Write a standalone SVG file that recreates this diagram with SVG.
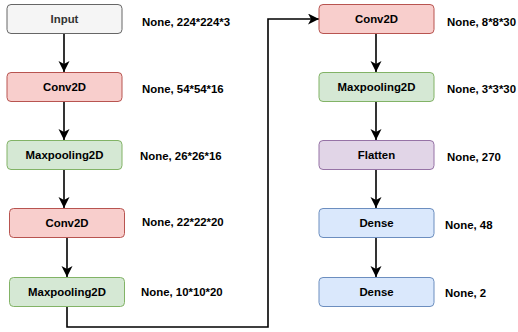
<svg xmlns="http://www.w3.org/2000/svg" width="518" height="332" viewBox="0 0 518 332">
<style>
.box{stroke-width:1}
.lbl{font-family:"Liberation Sans",Arial,sans-serif;font-weight:bold;font-size:11.4px;fill:#000}
.side{font-family:"Liberation Sans",Arial,sans-serif;font-weight:bold;font-size:11.4px;fill:#000}
.gray{fill:#f5f5f5;stroke:#666666}
.red{fill:#f8cecc;stroke:#b85450}
.green{fill:#d5e8d4;stroke:#82b366}
.purple{fill:#e1d5e7;stroke:#9673a6}
.blue{fill:#dae8fc;stroke:#6c8ebf}
.edge{fill:none;stroke:#000;stroke-width:1.6}
</style>
<defs>
<marker id="arr" markerUnits="userSpaceOnUse" markerWidth="12" markerHeight="12" refX="11" refY="5.5" orient="auto">
<path d="M0,0 L11,5.5 L0,11 L3,5.5 Z" fill="#000"/>
</marker>
</defs>
<g id="connectors">
<path class="edge" d="M64,33 V72" marker-end="url(#arr)"/>
<path class="edge" d="M64,101 V140" marker-end="url(#arr)"/>
<path class="edge" d="M64,169 V208" marker-end="url(#arr)"/>
<path class="edge" d="M67,237 V277" marker-end="url(#arr)"/>
<path class="edge" d="M67,306 V327 H268 V19 H319" marker-end="url(#arr)"/>
<path class="edge" d="M376,33 V72" marker-end="url(#arr)"/>
<path class="edge" d="M376,101 V140" marker-end="url(#arr)"/>
<path class="edge" d="M376,169 V208" marker-end="url(#arr)"/>
<path class="edge" d="M376,237 V277" marker-end="url(#arr)"/>
</g>
<g id="input">
<rect class="box gray" x="7" y="4.5" width="115" height="29" rx="4"/>
<text class="lbl" x="64.5" y="23" text-anchor="middle" style="fill:#333333">Input</text>
<text class="side" x="142" y="26">None, 224*224*3</text>
</g>
<g id="conv1">
<rect class="box red" x="7" y="72.5" width="115" height="29" rx="4"/>
<text class="lbl" x="64.5" y="91" text-anchor="middle">Conv2D</text>
<text class="side" x="142" y="93">None, 54*54*16</text>
</g>
<g id="pool1">
<rect class="box green" x="7" y="140.5" width="115" height="29" rx="4"/>
<text class="lbl" x="64.5" y="159" text-anchor="middle">Maxpooling2D</text>
<text class="side" x="140" y="160">None, 26*26*16</text>
</g>
<g id="conv2">
<rect class="box red" x="9.5" y="208.5" width="115" height="29" rx="4"/>
<text class="lbl" x="67" y="227" text-anchor="middle">Conv2D</text>
<text class="side" x="142" y="226">None, 22*22*20</text>
</g>
<g id="pool2">
<rect class="box green" x="9.5" y="277.5" width="115" height="29" rx="4"/>
<text class="lbl" x="67" y="296" text-anchor="middle">Maxpooling2D</text>
<text class="side" x="141" y="296">None, 10*10*20</text>
</g>
<g id="conv3">
<rect class="box red" x="319" y="4.5" width="115" height="29" rx="4"/>
<text class="lbl" x="376.5" y="23" text-anchor="middle">Conv2D</text>
<text class="side" x="447" y="26">None, 8*8*30</text>
</g>
<g id="pool3">
<rect class="box green" x="319" y="72.5" width="115" height="29" rx="4"/>
<text class="lbl" x="376.5" y="91" text-anchor="middle">Maxpooling2D</text>
<text class="side" x="447" y="93">None, 3*3*30</text>
</g>
<g id="flatten">
<rect class="box purple" x="319" y="140.5" width="115" height="29" rx="4"/>
<text class="lbl" x="376.5" y="159" text-anchor="middle">Flatten</text>
<text class="side" x="447" y="161">None, 270</text>
</g>
<g id="dense1">
<rect class="box blue" x="319" y="208.5" width="115" height="29" rx="4"/>
<text class="lbl" x="376.5" y="227" text-anchor="middle">Dense</text>
<text class="side" x="445" y="229">None, 48</text>
</g>
<g id="dense2">
<rect class="box blue" x="319" y="277.5" width="115" height="29" rx="4"/>
<text class="lbl" x="376.5" y="296" text-anchor="middle">Dense</text>
<text class="side" x="445" y="297">None, 2</text>
</g>
</svg>
